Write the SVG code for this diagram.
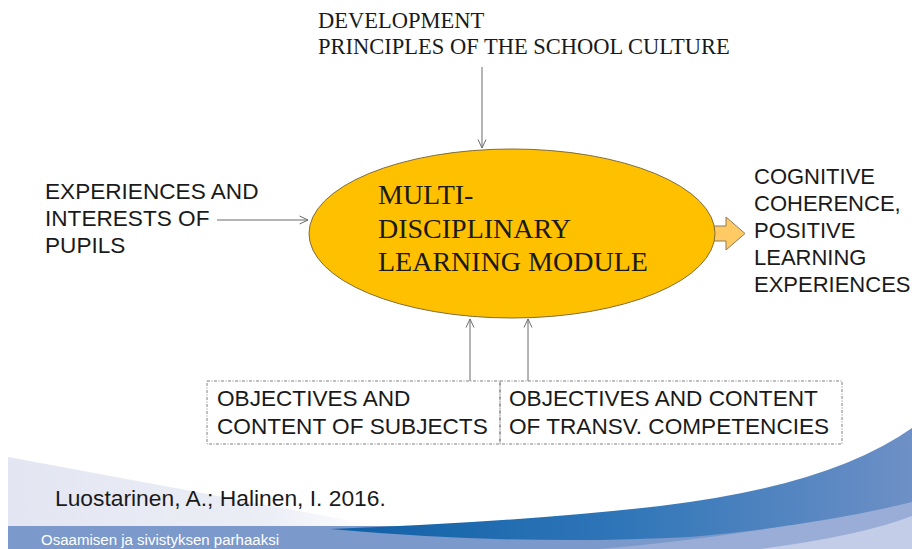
<svg xmlns="http://www.w3.org/2000/svg" width="912" height="549" viewBox="0 0 912 549">
<style>
.serif{font-family:"Liberation Serif","Times New Roman",serif;fill:#1a1a1a;}
.sans{font-family:"Liberation Sans",Arial,sans-serif;fill:#1a1a1a;}
.conn{stroke:#6b6b6b;stroke-width:1;fill:none;marker-end:url(#open);}
.dash{fill:none;stroke:#808080;stroke-width:1;stroke-dasharray:3 1.5 1 1.5;}
</style>
<defs>
<marker id="open" viewBox="0 0 10 10" refX="9.5" refY="5" markerWidth="10" markerHeight="10" markerUnits="userSpaceOnUse" orient="auto">
<path d="M1,1 L9.5,5 L1,9" fill="none" stroke="#6b6b6b" stroke-width="1"/>
</marker>
<linearGradient id="swoosh" x1="0" y1="0" x2="1" y2="0">
<stop offset="0" stop-color="#0f5fa6"/>
<stop offset="0.5" stop-color="#2f76b8"/>
<stop offset="1" stop-color="#6e90c6"/>
</linearGradient>
<linearGradient id="wedge" x1="0" y1="0" x2="1" y2="0">
<stop offset="0" stop-color="#e3e6f2"/>
<stop offset="0.7" stop-color="#eceef6"/>
<stop offset="1" stop-color="#ffffff"/>
</linearGradient>
</defs>
<rect width="912" height="549" fill="#ffffff"/>
<g id="footer">
<path d="M8,457 L380,526 L8,527 Z" fill="url(#wedge)"/>
<rect x="8" y="526" width="904" height="23" fill="#7b99cb"/>
<path d="M600,549 Q790,532 912,498 L912,549 Z" fill="#9aadd6"/>
<path d="M760,549 Q860,536 912,516 L912,549 Z" fill="#c3cde7"/>
<path d="M330,529 Q520,522 660,506 Q830,486 912,428 L912,502 Q820,525 690,537 Q520,546 330,529 Z" fill="url(#swoosh)"/>
<text x="55" y="506" class="sans" font-size="22.8">Luostarinen, A.; Halinen, I. 2016.</text>
<text x="41" y="545" font-family="Liberation Sans, Arial, sans-serif" font-size="14" fill="#ffffff" textLength="238" lengthAdjust="spacingAndGlyphs">Osaamisen ja sivistyksen  parhaaksi</text>
</g>
<g id="connectors">
<line class="conn" x1="482" y1="67" x2="482" y2="148"/>
<line class="conn" x1="217" y1="220" x2="308" y2="220"/>
<line class="conn" x1="470" y1="381" x2="470" y2="319"/>
<line class="conn" x1="528" y1="381" x2="528" y2="319"/>
<path d="M710,226 L726,226 L726,217 L745,233.5 L726,250 L726,241 L710,241 Z" fill="#ffc964" stroke="#8d7b58" stroke-width="1"/>
</g>
<g id="module">
<ellipse cx="512" cy="233.5" rx="203" ry="84.5" fill="#ffc000" stroke="#7f6d3c" stroke-width="1"/>
<text class="serif" font-size="28"><tspan x="378" y="204">MULTI-</tspan><tspan x="378" y="238">DISCIPLINARY</tspan><tspan x="378" y="271">LEARNING MODULE</tspan></text>
</g>
<g id="principles">
<text class="serif" font-size="22.5"><tspan x="318" y="28">DEVELOPMENT</tspan><tspan x="318" y="54">PRINCIPLES OF THE SCHOOL CULTURE</tspan></text>
</g>
<g id="experiences">
<text class="sans" font-size="22.6"><tspan x="45" y="199">EXPERIENCES AND</tspan><tspan x="45" y="226">INTERESTS OF</tspan><tspan x="45" y="253">PUPILS</tspan></text>
</g>
<g id="outcome">
<text class="sans" font-size="22"><tspan x="754" y="184">COGNITIVE</tspan><tspan x="754" y="211">COHERENCE,</tspan><tspan x="754" y="238">POSITIVE</tspan><tspan x="754" y="265">LEARNING</tspan><tspan x="754" y="292">EXPERIENCES</tspan></text>
</g>
<g id="subjects">
<rect class="dash" x="207" y="381" width="293" height="63"/>
<text class="sans" font-size="22.6"><tspan x="217" y="406">OBJECTIVES AND</tspan><tspan x="217" y="434">CONTENT OF SUBJECTS</tspan></text>
</g>
<g id="competencies">
<rect class="dash" x="500" y="381" width="342" height="63"/>
<text class="sans" font-size="22.6"><tspan x="509" y="406">OBJECTIVES AND CONTENT</tspan><tspan x="509" y="434">OF TRANSV. COMPETENCIES</tspan></text>
</g>
</svg>
